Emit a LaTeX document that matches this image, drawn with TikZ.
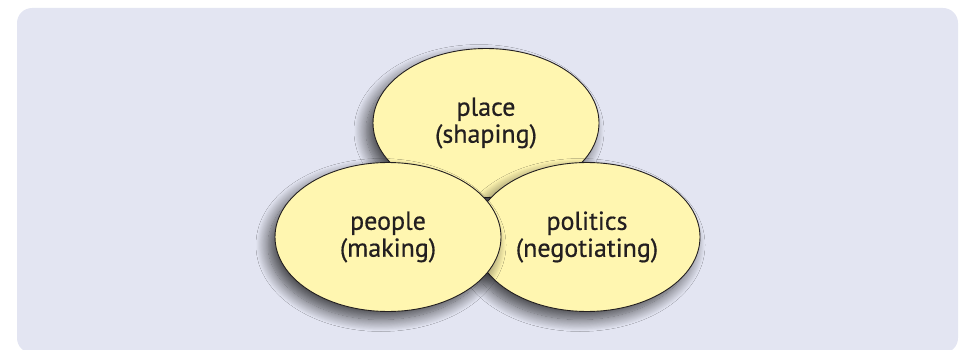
\documentclass[tikz,border=0pt]{standalone}
\usepackage{fontspec}
\setmainfont[FakeBold=0.6]{PT Sans}
\usetikzlibrary{shapes.geometric,shadows.blur}
\definecolor{bglilac}{RGB}{227,229,242}
\definecolor{paleyellow}{RGB}{255,246,176}
\definecolor{ink}{RGB}{35,31,32}
\begin{document}
\begin{tikzpicture}[x=1pt,y=-1pt,
  blob/.style={ellipse,draw=ink,line width=0.9pt,fill=paleyellow,text=ink,
    minimum width=226pt,minimum height=149pt,inner sep=0pt,align=center,
    font=\fontsize{26}{27}\selectfont,
    blur shadow={shadow xshift=-7pt,shadow yshift=-8pt,shadow blur radius=12pt,
      shadow blur steps=16,shadow opacity=70}}]
  \useasboundingbox (0,0) rectangle (965,350);
  \clip (0,0) rectangle (965,350);
  \fill[bglilac,rounded corners=15pt] (17,8) rectangle (958,353);
  \node[blob] (place) at (486,123) {place\\(shaping)};
  \node[blob] (politics) at (587,237) {politics\\(negotiating)};
  \node[blob] (people) at (388,237) {people\\(making)};
\end{tikzpicture}
\end{document}
